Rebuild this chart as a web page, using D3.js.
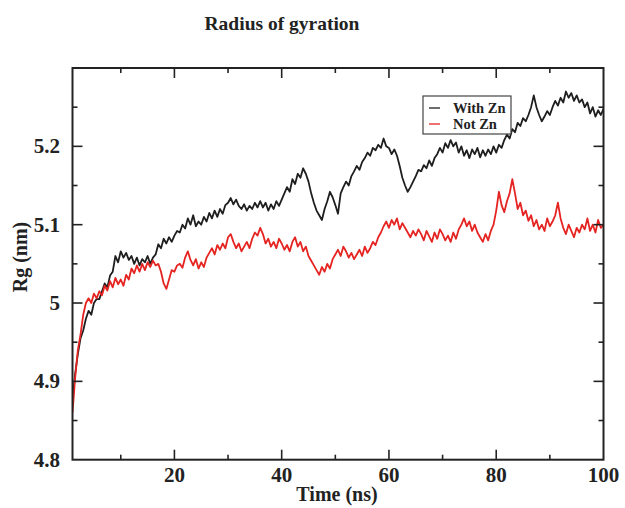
<!DOCTYPE html>
<html><head><meta charset="utf-8">
<script src="https://cdn.jsdelivr.net/npm/d3@7"></script>
<style>
html,body{margin:0;padding:0;background:#fff;}
svg text{font-family:"Liberation Serif","Times New Roman",serif;font-weight:bold;fill:#222;}
</style></head>
<body>
<svg id="chart" width="625" height="508"></svg>
<script>
const title = "Radius of gyration";
const xLabel = "Time (ns)";
const yLabel = "Rg (nm)";
const seriesNames = ["With Zn", "Not Zn"];
const seriesColors = ["#1e1e1e", "#e52421"];
const tStart = 1, tStep = 0.5;
const xMajorTicks = [20, 40, 60, 80, 100];
const xMinorTicks = [10, 30, 50, 70, 90];
const yMajorTicks = [4.8, 4.9, 5.0, 5.1, 5.2];
const yMinorTicks = [4.85, 4.95, 5.05, 5.15, 5.25];
const yTickLabels = ["4.8", "4.9", "5", "5.1", "5.2"];

const withZn = [
 4.875,4.91,4.935,4.955,4.965,4.98,4.99,4.985,5.0,5.005,
 5.005,5.015,5.025,5.02,5.035,5.04,5.06,5.052,5.066,5.058,
 5.064,5.055,5.06,5.05,5.058,5.048,5.056,5.052,5.06,5.05,
 5.058,5.062,5.075,5.07,5.082,5.076,5.084,5.078,5.086,5.092,
 5.09,5.1,5.095,5.108,5.1,5.112,5.098,5.104,5.1,5.11,
 5.104,5.115,5.108,5.118,5.11,5.12,5.114,5.125,5.128,5.134,
 5.126,5.132,5.124,5.12,5.126,5.118,5.124,5.12,5.128,5.122,
 5.13,5.122,5.128,5.118,5.126,5.12,5.13,5.124,5.132,5.14,
 5.148,5.142,5.158,5.152,5.165,5.16,5.172,5.165,5.155,5.14,
 5.128,5.118,5.112,5.106,5.12,5.13,5.142,5.135,5.125,5.114,
 5.14,5.148,5.155,5.15,5.162,5.168,5.175,5.17,5.18,5.185,
 5.192,5.188,5.198,5.195,5.202,5.198,5.21,5.2,5.198,5.19,
 5.196,5.188,5.175,5.16,5.15,5.142,5.148,5.155,5.162,5.17,
 5.168,5.176,5.172,5.182,5.175,5.185,5.19,5.198,5.192,5.204,
 5.198,5.208,5.2,5.205,5.192,5.2,5.188,5.195,5.185,5.196,
 5.19,5.198,5.186,5.195,5.188,5.196,5.19,5.2,5.192,5.202,
 5.198,5.208,5.215,5.21,5.222,5.218,5.23,5.226,5.236,5.232,
 5.24,5.25,5.265,5.25,5.24,5.232,5.238,5.245,5.24,5.25,
 5.258,5.252,5.262,5.256,5.27,5.262,5.268,5.258,5.265,5.256,
 5.26,5.25,5.256,5.242,5.25,5.238,5.246,5.24,5.248
];
const notZn = [
 4.86,4.905,4.94,4.96,4.985,5.0,5.006,5.0,5.012,5.006,
 5.015,5.01,5.022,5.016,5.028,5.02,5.032,5.024,5.03,5.022,
 5.036,5.03,5.044,5.038,5.048,5.04,5.05,5.042,5.052,5.046,
 5.054,5.048,5.05,5.04,5.025,5.018,5.03,5.042,5.04,5.048,
 5.05,5.045,5.058,5.066,5.055,5.048,5.056,5.044,5.052,5.046,
 5.058,5.064,5.07,5.062,5.074,5.068,5.076,5.07,5.084,5.088,
 5.078,5.07,5.076,5.066,5.072,5.078,5.07,5.082,5.09,5.086,
 5.096,5.088,5.076,5.082,5.072,5.078,5.07,5.082,5.076,5.068,
 5.074,5.066,5.078,5.084,5.072,5.078,5.066,5.072,5.06,5.054,
 5.048,5.042,5.036,5.046,5.04,5.05,5.044,5.056,5.062,5.068,
 5.06,5.072,5.066,5.058,5.064,5.056,5.062,5.068,5.06,5.072,
 5.064,5.07,5.078,5.074,5.084,5.09,5.098,5.104,5.096,5.106,
 5.1,5.108,5.094,5.102,5.096,5.09,5.084,5.092,5.086,5.094,
 5.088,5.08,5.092,5.085,5.078,5.09,5.082,5.094,5.088,5.08,
 5.086,5.078,5.09,5.082,5.094,5.1,5.108,5.098,5.104,5.092,
 5.1,5.09,5.084,5.078,5.088,5.08,5.092,5.1,5.118,5.142,
 5.125,5.116,5.13,5.14,5.158,5.14,5.12,5.128,5.112,5.118,
 5.105,5.112,5.098,5.106,5.094,5.1,5.092,5.108,5.098,5.104,
 5.112,5.128,5.108,5.096,5.088,5.1,5.092,5.084,5.096,5.09,
 5.1,5.094,5.108,5.092,5.1,5.09,5.106,5.096,5.1
];

const svg = d3.select("#chart");
const L = 72.5, R = 603.5, T = 68, B = 459.7;
const x = d3.scaleLinear().domain([1, 100]).range([L, R]);
const y = d3.scaleLinear().domain([4.8, 5.3]).range([B, T]);

svg.append("defs").append("clipPath").attr("id","clip")
  .append("rect").attr("x",L).attr("y",T).attr("width",R-L).attr("height",B-T);

const line = d3.line().x((d,i)=>x(tStart+i*tStep)).y(d=>y(d));
[withZn, notZn].forEach((s,k)=>{
  svg.append("path").datum(s).attr("d",line).attr("fill","none")
    .attr("stroke",seriesColors[k]).attr("stroke-width",1.8)
    .attr("stroke-linejoin","round").attr("clip-path","url(#clip)");
});

// frame
svg.append("rect").attr("x",L).attr("y",T).attr("width",R-L).attr("height",B-T)
  .attr("fill","none").attr("stroke","#222").attr("stroke-width",2);

const g = svg.append("g");
function ticks(vals, len){
  vals.forEach(v=>{
    g.append("line").attr("x1",x(v)).attr("x2",x(v)).attr("y1",B).attr("y2",B-len).attr("stroke","#222").attr("stroke-width",1.6);
    g.append("line").attr("x1",x(v)).attr("x2",x(v)).attr("y1",T).attr("y2",T+len).attr("stroke","#222").attr("stroke-width",1.6);
  });
}
ticks(xMajorTicks.filter(v=>v<100), 10);
ticks(xMinorTicks, 5);
function yticks(vals, len){
  vals.forEach(v=>{
    g.append("line").attr("y1",y(v)).attr("y2",y(v)).attr("x1",L).attr("x2",L+len).attr("stroke","#222").attr("stroke-width",1.6);
    g.append("line").attr("y1",y(v)).attr("y2",y(v)).attr("x1",R).attr("x2",R-len).attr("stroke","#222").attr("stroke-width",1.6);
  });
}
yticks(yMajorTicks.filter(v=>v>4.8), 10);
yticks(yMinorTicks, 5);

xMajorTicks.forEach(v=>{
  svg.append("text").attr("x",x(v)).attr("y",482).attr("text-anchor","middle")
    .attr("font-size",21).text(String(v));
});
yMajorTicks.forEach((v,i)=>{
  svg.append("text").attr("x",60).attr("y",y(v)+7).attr("text-anchor","end")
    .attr("font-size",21).text(yTickLabels[i]);
});

svg.append("text").attr("x",282).attr("y",30).attr("text-anchor","middle")
  .attr("font-size",19.5).text(title);
svg.append("text").attr("x",337).attr("y",501).attr("text-anchor","middle")
  .attr("font-size",20).text(xLabel);
svg.append("text").attr("transform","translate(27,257) rotate(-90)").attr("text-anchor","middle")
  .attr("font-size",20).text(yLabel);

// legend
const lg = svg.append("g");
lg.append("rect").attr("x",423).attr("y",96).attr("width",88).attr("height",38)
  .attr("fill","#fff").attr("stroke","#444").attr("stroke-width",1.2);
seriesNames.forEach((n,i)=>{
  const yy = 108 + i*16;
  lg.append("line").attr("x1",429).attr("x2",440).attr("y1",yy).attr("y2",yy)
    .attr("stroke",seriesColors[i]).attr("stroke-width",1.3);
  lg.append("text").attr("x",453).attr("y",yy+5).attr("font-size",14.5).text(n);
});
</script>
</body></html>
